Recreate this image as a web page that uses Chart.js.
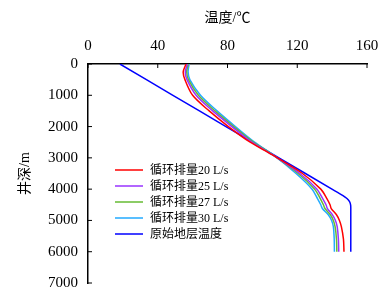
<!DOCTYPE html>
<html>
<head>
  <meta charset="utf-8">
  <title>井深温度剖面</title>
  <script src="https://cdn.jsdelivr.net/npm/chart.js"></script>
  <style>
    body {
      margin: 0;
      background: #fff;
    }
  </style>
</head>
<body>
  <canvas id="chart" width="391" height="302"></canvas>

  <script>
    // depth (m) shared by the four circulation curves
    const depths = [0, 250, 500, 1000, 1500, 2000, 2500, 2900, 3500, 4000, 4300, 4500, 4620, 4820, 5000, 5200, 5600, 6000];

    // temperature (°C) for each flow rate
    const temp20 = [56.2, 54.6, 55.6, 60, 69.5, 80.5, 93, 105.5, 123, 133.5, 137, 138.8, 139.5, 142.5, 144.2, 145.3, 146.5, 146.8];
    const temp25 = [57, 55.8, 56.8, 62, 71.5, 82.5, 94, 105.7, 121.5, 131.3, 134.6, 136.5, 137.3, 140.2, 141.9, 142.9, 143.6, 143.8];
    const temp27 = [57.5, 56.6, 57.6, 63.3, 72.8, 83.5, 94.8, 105.8, 120.5, 130, 133.2, 135, 135.9, 139, 140.7, 141.7, 142.5, 142.7];
    const temp30 = [58, 57.4, 58.4, 64.5, 74, 84.5, 95.5, 106, 119.3, 128.5, 131.6, 133.5, 134.4, 137.8, 139.7, 140.7, 141.2, 141.3];

    // original formation temperature
    const formDepths = [0, 1000, 2000, 3000, 4000, 4200, 4300, 4400, 4500, 4600, 6000];
    const formTemp = [18.3, 48.7, 79.1, 109.5, 139.9, 146, 148.5, 150, 150.6, 150.7, 150.7];

    const seriesLabels = ['循环排量20 L/s', '循环排量25 L/s', '循环排量27 L/s', '循环排量30 L/s', '原始地层温度'];
    const seriesColors = ['#ff0000', '#9933ff', '#66bb33', '#22aaff', '#0000ff'];

    const xTicks = [0, 40, 80, 120, 160];
    const yTicks = [0, 1000, 2000, 3000, 4000, 5000, 6000, 7000];

    function toPoints(xs, ys) {
      return xs.map((v, i) => ({ x: v, y: ys[i] }));
    }

    const allSeries = [
      toPoints(temp20, depths),
      toPoints(temp25, depths),
      toPoints(temp27, depths),
      toPoints(temp30, depths),
      toPoints(formTemp, formDepths)
    ];

    const datasets = allSeries.map((pts, i) => ({
      label: seriesLabels[i],
      data: pts,
      borderColor: seriesColors[i],
      backgroundColor: seriesColors[i],
      borderWidth: 1.5,
      showLine: true,
      pointRadius: 0,
      tension: i === 4 ? 0.15 : 0.3,
      fill: false
    }));

    const fontFamily = '"Liberation Serif", "Noto Sans CJK SC", serif';

    // short tick marks pointing into the plot
    const innerTicks = {
      id: 'innerTicks',
      afterDraw(chart) {
        const { ctx, scales: { x, y } } = chart;
        ctx.save();
        ctx.strokeStyle = '#000';
        ctx.lineWidth = 1;
        x.ticks.forEach((t, i) => {
          const px = x.getPixelForTick(i);
          ctx.beginPath();
          ctx.moveTo(px, x.bottom);
          ctx.lineTo(px, x.bottom + 4);
          ctx.stroke();
        });
        y.ticks.forEach((t, i) => {
          const py = y.getPixelForTick(i);
          ctx.beginPath();
          ctx.moveTo(y.right, py);
          ctx.lineTo(y.right + 4, py);
          ctx.stroke();
        });
        ctx.restore();
      }
    };

    // legend inside the plot, lower left
    const boxLegend = {
      id: 'boxLegend',
      afterDraw(chart) {
        const ctx = chart.ctx;
        const left = 115, top = 170, rowH = 16;
        ctx.save();
        ctx.font = '12px ' + fontFamily;
        ctx.textBaseline = 'middle';
        ctx.fillStyle = '#000';
        chart.data.datasets.forEach((ds, i) => {
          const yy = top + i * rowH;
          ctx.strokeStyle = ds.borderColor;
          ctx.lineWidth = 1.5;
          ctx.beginPath();
          ctx.moveTo(left, yy);
          ctx.lineTo(left + 28, yy);
          ctx.stroke();
          ctx.fillText(ds.label, left + 35, yy + 1);
        });
        ctx.restore();
      }
    };

    const tickFont = { family: fontFamily, size: 15 };
    const titleFont = { family: fontFamily, size: 14 };

    new Chart(document.getElementById('chart'), {
      type: 'scatter',
      data: { datasets },
      plugins: [innerTicks, boxLegend],
      options: {
        responsive: false,
        animation: false,
        layout: { padding: { left: 0, right: 24, top: 0, bottom: 14 } },
        plugins: {
          legend: { display: false },
          tooltip: { enabled: false }
        },
        scales: {
          x: {
            position: 'top',
            min: 0,
            max: 160,
            afterBuildTicks: s => { s.ticks = xTicks.map(v => ({ value: v })); },
            afterFit: s => { s.height = 64; },
            grid: { display: false, drawTicks: false },
            border: { display: true, color: '#000', width: 1.5 },
            ticks: { color: '#000', font: tickFont, padding: 9, callback: v => String(v) },
            title: { display: true, text: '温度/℃', color: '#000', font: titleFont, padding: { top: 10, bottom: 10 } }
          },
          y: {
            reverse: true,
            min: 0,
            max: 7000,
            afterBuildTicks: s => { s.ticks = yTicks.map(v => ({ value: v })); },
            afterFit: s => { s.width = 88; },
            grid: { display: false, drawTicks: false },
            border: { display: true, color: '#000', width: 1.5 },
            ticks: { color: '#000', font: tickFont, padding: 10, callback: v => String(v) },
            title: { display: true, text: '井深/m', color: '#000', font: titleFont, padding: { top: 17, bottom: 0 } }
          }
        }
      }
    });
  </script>
</body>
</html>
